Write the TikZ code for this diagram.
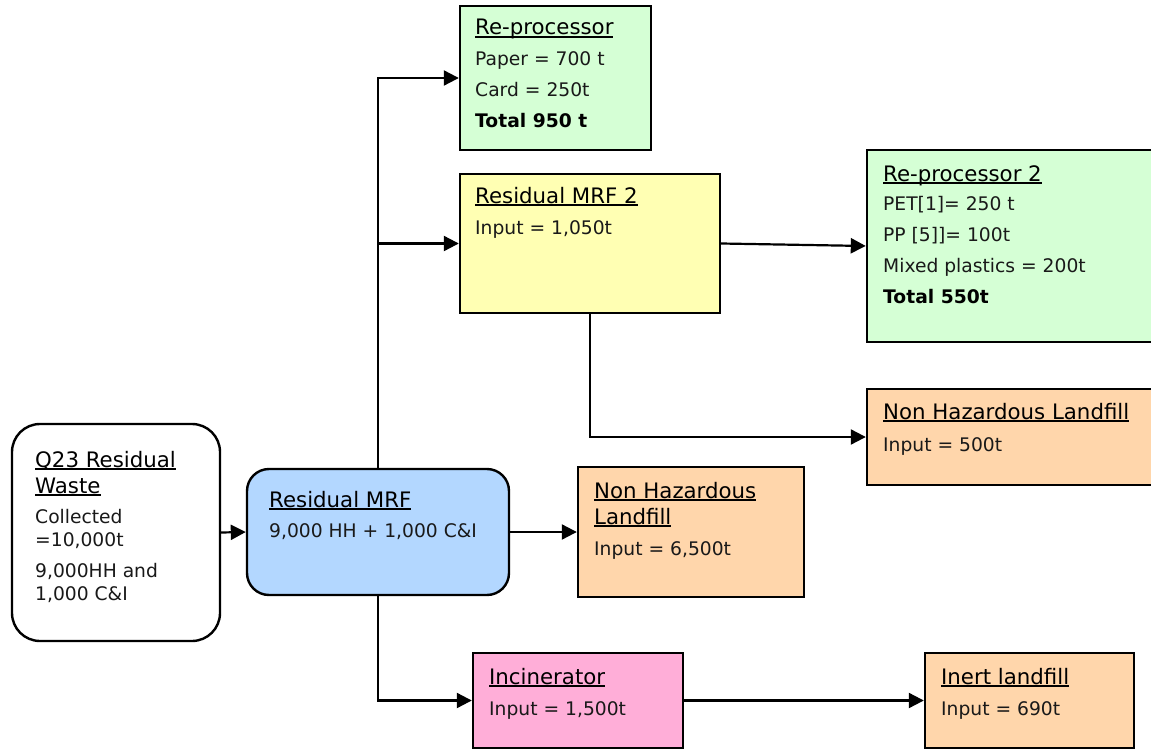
\documentclass[tikz,border=0pt]{standalone}
\usepackage{fontspec}
\setmainfont{DejaVu Sans}
\usetikzlibrary{arrows.meta}

% fill colours of the boxes
\definecolor{boxgreen}{RGB}{213,255,213}
\definecolor{boxyellow}{RGB}{255,255,179}
\definecolor{boxblue}{RGB}{179,215,255}
\definecolor{boxpeach}{RGB}{255,214,171}
\definecolor{boxpink}{RGB}{255,174,216}
\definecolor{bodytext}{RGB}{25,25,25}

% thick underline for box headings
\newcommand\headline[1]{\setbox0\hbox{#1}\leavevmode\rlap{\rule[-3.2pt]{\wd0}{1.8pt}}\box0}

\tikzset{
  box/.style={draw=black, line width=2.4pt, rectangle, inner sep=0pt},
  rbox/.style={box, rounded corners=#1},
  head/.style={anchor=base west, inner sep=0pt, font=\fontsize{21.3}{24}\selectfont, text=black},
  body/.style={anchor=base west, inner sep=0pt, font=\fontsize{18.7}{22}\selectfont, text=bodytext},
  bodybold/.style={body, font=\fontsize{18.7}{22}\selectfont\bfseries, text=black},
  flow/.style={line width=2.2pt, -{Triangle[length=15pt,width=15pt]}},
}

\begin{document}
\begin{tikzpicture}[x=1pt,y=-1pt]
\useasboundingbox (0,0) rectangle (1151,749);

% ---- boxes ----
\node[rbox=28pt, fill=white, minimum width=208pt, minimum height=217pt] (q23) at (116,532.5) {};
\node[rbox=22pt, fill=boxblue, minimum width=262pt, minimum height=126pt] (mrf) at (378,532) {};
\node[box, fill=boxgreen, minimum width=191pt, minimum height=144pt] (rp) at (555.5,78) {};
\node[box, fill=boxyellow, minimum width=260pt, minimum height=139pt] (mrf2) at (590,243.5) {};
\node[box, fill=boxgreen, minimum width=293pt, minimum height=192pt] (rp2) at (1013.5,246) {};
\node[box, fill=boxpeach, minimum width=293pt, minimum height=96pt] (nhl2) at (1013.5,437) {};
\node[box, fill=boxpeach, minimum width=226pt, minimum height=130pt] (nhl) at (691,532) {};
\node[box, fill=boxpink, minimum width=210pt, minimum height=95pt] (inc) at (578,700.5) {};
\node[box, fill=boxpeach, minimum width=209pt, minimum height=95pt] (inert) at (1029.5,700.5) {};

% ---- texts ----
\node[head] (q23-h1) at (35,467) {\headline{Q23 Residual}};
\node[head] (q23-h2) at (35,493) {\headline{Waste}};
\node[body] (q23-l1) at (35,523) {Collected};
\node[body] (q23-l2) at (35,546) {=10,000t};
\node[body] (q23-l3) at (35,577) {9,000HH and};
\node[body] (q23-l4) at (35,600) {1,000 C\&I};

\node[head] (mrf-h) at (269,507) {\headline{Residual MRF}};
\node[body] (mrf-l1) at (269,537) {9,000 HH + 1,000 C\&I};

\node[head] (rp-h) at (475,35) {\headline{Re-processor}};
\node[body] (rp-l1) at (475,66) {Paper = 700 t};
\node[body] (rp-l2) at (475,97) {Card = 250t};
\node[bodybold] (rp-l3) at (475,128) {Total 950 t};

\node[head] (mrf2-h) at (475,203) {\headline{Residual MRF 2}};
\node[body] (mrf2-l1) at (475,234) {Input = 1,050t};

\node[head] (rp2-h) at (883,181) {\headline{Re-processor 2}};
\node[body] (rp2-l1) at (883,210) {PET[1]= 250 t};
\node[body] (rp2-l2) at (883,241) {PP [5]]= 100t};
\node[body] (rp2-l3) at (883,272) {Mixed plastics = 200t};
\node[bodybold] (rp2-l4) at (883,303) {Total 550t};

\node[head] (nhl2-h) at (883,419) {\headline{Non Hazardous Landfill}};
\node[body] (nhl2-l1) at (883,451) {Input = 500t};

\node[head] (nhl-h1) at (594,498) {\headline{Non Hazardous}};
\node[head] (nhl-h2) at (594,524) {\headline{Landfill}};
\node[body] (nhl-l1) at (594,555) {Input = 6,500t};

\node[head] (inc-h) at (489,684) {\headline{Incinerator}};
\node[body] (inc-l1) at (489,715) {Input = 1,500t};

\node[head] (inert-h) at (941,684) {\headline{Inert landfill}};
\node[body] (inert-l1) at (941,715) {Input = 690t};

% ---- flows ----
\draw[flow] (q23.east) -- (mrf.west);
\draw[flow] (mrf.east) -- (nhl.west);
\draw[flow] (mrf.north) |- (rp.west);
\draw[flow] (mrf.north) |- (mrf2.west);
\draw[flow] (mrf.south) |- (inc.west);
\draw[flow] (inc.east) -- (inert.west);
\draw[flow] (mrf2.east) -- (rp2.west);
\draw[flow] (mrf2.south) |- (nhl2.west);
\end{tikzpicture}
\end{document}
